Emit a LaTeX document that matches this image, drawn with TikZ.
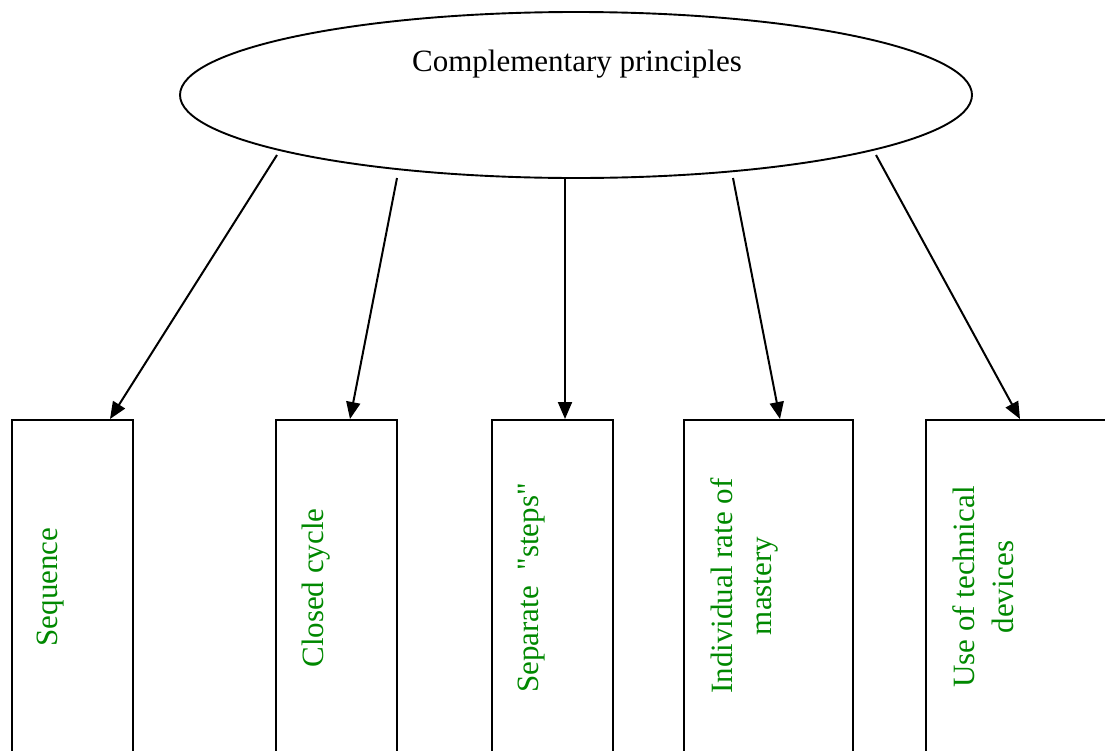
\documentclass[tikz,border=0pt]{standalone}
\usepackage{fontspec}
\setmainfont{Liberation Serif}
\usetikzlibrary{shapes.geometric,arrows.meta,calc}
\definecolor{lblgreen}{RGB}{0,136,0}
\begin{document}
\begin{tikzpicture}[x=1pt,y=-1pt,
  conn/.style={line width=2pt,-{Triangle[length=17pt,width=14pt]}},
  boxnode/.style={draw,line width=1.8pt,rectangle,inner sep=0pt,minimum height=400pt,anchor=north},
  lbl/.style={text=lblgreen,rotate=90,align=center,font=\fontsize{31}{39}\selectfont,inner sep=0pt},
  ttl/.style={draw,line width=1.9pt,ellipse,inner sep=0pt,minimum width=792pt,minimum height=166pt}]
\useasboundingbox (0,0) rectangle (1105,750);
\clip (0,0) rectangle (1105,750);
\node[ttl] (top) at (576,95) {};
\node[font=\fontsize{31}{36}\selectfont,inner sep=0pt] (ttltext) at (577,64) {Complementary principles};
\node[boxnode,minimum width=121pt] (b1) at (72.5,419) {};
\node[boxnode,minimum width=121pt] (b2) at (336.5,419) {};
\node[boxnode,minimum width=121pt] (b3) at (552.5,419) {};
\node[boxnode,minimum width=169pt] (b4) at (768.5,419) {};
\node[boxnode,minimum width=190pt] (b5) at (1021,419) {};
\node[lbl] (l1) at (51,587) {Sequence};
\node[lbl] (l2) at (316,588) {Closed cycle};
\node[lbl] (l3) at (532,588) {Separate \ \textquotedbl steps\textquotedbl};
\node[lbl] (l4) at (744,586) {Individual rate of\\mastery};
\node[lbl] (l5) at (983,587) {Use of technical\\devices};
\coordinate (s1) at (277,155);
\coordinate (s2) at (397,178);
\coordinate (s3) at (565,179);
\coordinate (s4) at (733,178);
\coordinate (s5) at (876,155);
\draw[conn] (s1) -- ([xshift=37.5pt]b1.north);
\draw[conn] (s2) -- ([xshift=13.5pt]b2.north);
\draw[conn] (s3) -- ([xshift=12.5pt]b3.north);
\draw[conn] (s4) -- ([xshift=11.5pt]b4.north);
\draw[conn] (s5) -- ([xshift=-1pt]b5.north);
\end{tikzpicture}
\end{document}
